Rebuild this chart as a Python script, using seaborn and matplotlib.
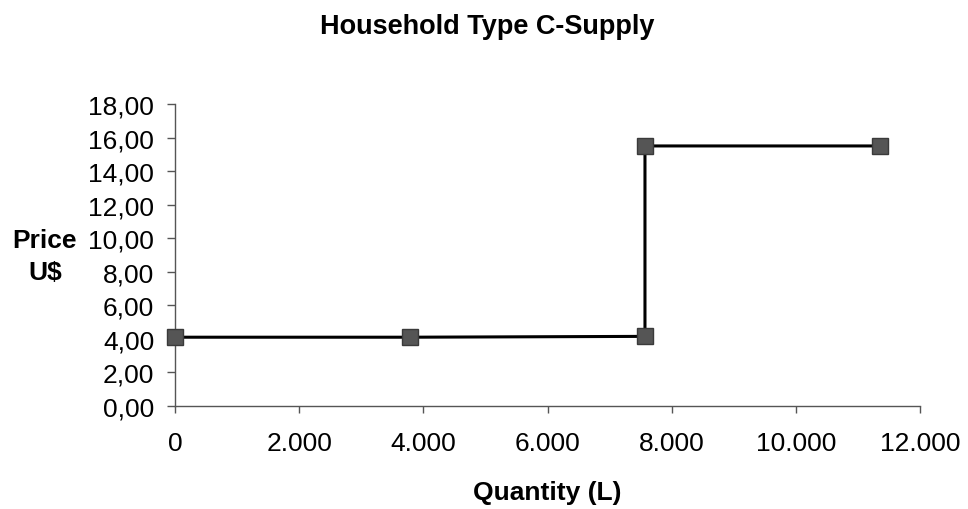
import matplotlib
matplotlib.use("Agg")
import matplotlib.pyplot as plt
import matplotlib.ticker as mticker
import seaborn as sns
import pandas as pd

# Data
quantity_l = [0, 3785, 7570, 7570, 11355]
price_usd = [4.10, 4.10, 4.15, 15.50, 15.50]

x_ticks = [0, 2000, 4000, 6000, 8000, 10000, 12000]
y_ticks = [0, 2, 4, 6, 8, 10, 12, 14, 16, 18]

df = pd.DataFrame({"Quantity": quantity_l, "Price": price_usd})

sns.set_theme(style="white")
plt.rcParams["font.family"] = ["Liberation Sans", "DejaVu Sans"]
plt.rcParams["text.color"] = "black"

fig = plt.figure(figsize=(9.68, 5.10), dpi=100)
ax = fig.add_axes([175 / 968, 1 - 407 / 510, (920 - 175) / 968, (407 - 105) / 510])

sns.lineplot(data=df, x="Quantity", y="Price", sort=False, estimator=None,
             color="black", linewidth=2.2, marker="s", markersize=11.5,
             markerfacecolor="#555555", markeredgecolor="#3a3a3a",
             markeredgewidth=1.0, ax=ax)
for ln in ax.lines:
    ln.set_clip_on(False)
    ln.set_zorder(5)

ax.set_xlim(0, 12000)
ax.set_ylim(0, 18)
ax.set_xticks(x_ticks)
ax.set_yticks(y_ticks)
ax.xaxis.set_major_formatter(mticker.FuncFormatter(lambda v, p: f"{int(v):,}".replace(",", ".")))
ax.yaxis.set_major_formatter(mticker.FuncFormatter(lambda v, p: f"{v:.2f}".replace(".", ",")))

for side in ["top", "right"]:
    ax.spines[side].set_visible(False)
for side in ["left", "bottom"]:
    ax.spines[side].set_color("#555555")
    ax.spines[side].set_linewidth(1.0)

ax.tick_params(axis="x", direction="out", length=5, width=1.0, color="#555555",
               labelsize=19, pad=13, labelcolor="black", bottom=True)
ax.tick_params(axis="y", direction="out", length=6, width=1.0, color="#555555",
               labelsize=19, pad=9, labelcolor="black", left=True)

ax.set_xlabel("")
ax.set_ylabel("")
fig.text(547 / 968, 1 - 493 / 510, "Quantity (L)", ha="center", va="center",
         fontsize=19, fontweight="bold", color="black")
fig.text(45 / 968, 1 - 257 / 510, "Price\nU$", ha="center", va="center",
         fontsize=19, fontweight="bold", linespacing=1.4, color="black")
fig.text(487 / 968, 1 - 27 / 510, "Household Type C-Supply", ha="center", va="center",
         fontsize=19.5, fontweight="bold", color="black")

fig.savefig("out.png", dpi=100)
